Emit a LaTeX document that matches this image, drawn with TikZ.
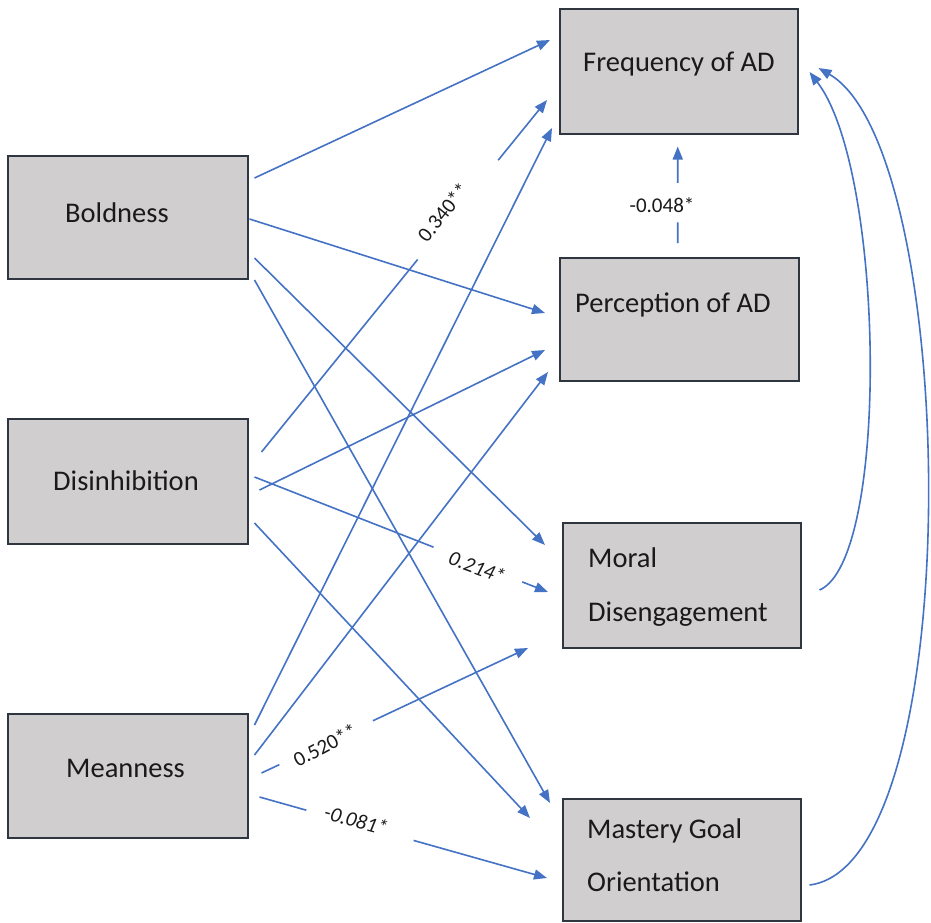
\documentclass[tikz,border=0pt]{standalone}
\usepackage{fontspec}
\setmainfont{Carlito}
\usetikzlibrary{arrows.meta,calc}
\definecolor{lineblue}{HTML}{4472C4}
\definecolor{boxgray}{HTML}{D0CECE}
\definecolor{boxedge}{HTML}{2F3640}
\definecolor{txt}{HTML}{1A1A1A}
\begin{document}
\begin{tikzpicture}[x=1pt,y=-1pt,
  box/.style={draw=boxedge, line width=1.5pt, fill=boxgray, inner sep=0pt, anchor=north west},
  lbl/.style={font=\fontsize{28.5}{34}\selectfont, text=txt, anchor=base west, inner sep=0pt},
  coef/.style={font=\fontsize{21}{25}\selectfont, text=txt, inner sep=0pt},
  plainline/.style={draw=lineblue, line width=1.6pt},
  conn/.style={draw=lineblue, line width=1.6pt, -{Triangle[length=13pt,width=10pt]}}]
\useasboundingbox (0,0) rectangle (931,922);
\fill[white] (0,0) rectangle (931,922);
% boxes
\node[box, minimum width=240pt, minimum height=123pt] (bold) at (7,155) {};
\node[box, minimum width=240pt, minimum height=125pt] (dis) at (7,418) {};
\node[box, minimum width=240pt, minimum height=124pt] (mean) at (7,713) {};
\node[box, minimum width=238pt, minimum height=125pt] (freq) at (559,8) {};
\node[box, minimum width=239pt, minimum height=123pt] (perc) at (559,257) {};
\node[box, minimum width=238pt, minimum height=125pt] (moral) at (562,522) {};
\node[box, minimum width=238pt, minimum height=122pt] (mast) at (562,798) {};
% box texts
\node[lbl] (tbold) at (65,222) {Boldness};
\node[lbl] (tdis) at (53,490) {Disinhibition};
\node[lbl] (tmean) at (66,777) {Meanness};
\node[lbl] (tfreq) at (583,71) {Frequency of AD};
\node[lbl] (tperc) at (575,312) {Perception of AD};
\node[lbl] (tmoral1) at (588,567) {Moral};
\node[lbl] (tmoral2) at (588,621) {Disengagement};
\node[lbl] (tmast1) at (587,838) {Mastery Goal};
\node[lbl] (tmast2) at (587,891) {Orientation};
% ports
\coordinate (b1) at ($(bold.north east)+(6,23)$);
\coordinate (b2) at ($(bold.north east)+(1,64)$);
\coordinate (b3) at ($(bold.north east)+(6,103)$);
\coordinate (b4) at ($(bold.north east)+(6,125)$);
\coordinate (d1) at ($(dis.north east)+(13,34)$);
\coordinate (d2) at ($(dis.north east)+(11,72)$);
\coordinate (d3) at ($(dis.north east)+(6,59)$);
\coordinate (d4) at ($(dis.north east)+(6,105)$);
\coordinate (m1) at ($(mean.north east)+(6,12)$);
\coordinate (m2) at ($(mean.north east)+(6,42)$);
\coordinate (m3) at ($(mean.north east)+(13,60)$);
\coordinate (m4) at ($(mean.north east)+(11,84)$);
\coordinate (f1) at ($(freq.north west)+(-9,32)$);
\coordinate (f2) at ($(freq.north west)+(-12,92)$);
\coordinate (f3) at ($(freq.north west)+(-7,120)$);
\coordinate (f4) at ($(freq.south)+(-1,12)$);
\coordinate (f5) at ($(freq.north east)+(11,64)$);
\coordinate (f6) at ($(freq.north east)+(20,60)$);
\coordinate (p1) at ($(perc.north west)+(-14,56)$);
\coordinate (p2) at ($(perc.north west)+(-14,93)$);
\coordinate (p3) at ($(perc.north west)+(-11,115)$);
\coordinate (p4) at ($(perc.north)+(-1.5,-14)$);
\coordinate (o1) at ($(moral.north west)+(-17,23)$);
\coordinate (o2) at ($(moral.north west)+(-14,70)$);
\coordinate (o3) at ($(moral.north west)+(-34,126)$);
\coordinate (o4) at ($(moral.north east)+(18,68)$);
\coordinate (s1) at ($(mast.north west)+(-12,5)$);
\coordinate (s2) at ($(mast.north west)+(-32,20)$);
\coordinate (s3) at ($(mast.north west)+(-15,80)$);
\coordinate (s4) at ($(mast.north east)+(8,87)$);
% Boldness
\draw[conn] (b1) -- (f1);
\draw[conn] (b2) -- (p1);
\draw[conn] (b3) -- (o1);
\draw[conn] (b4) -- (s1);
% Disinhibition
\draw[plainline] (d1) -- ($(d1)!0.547!(f2)$);
\draw[conn] ($(d1)!0.829!(f2)$) -- (f2);
\draw[conn] (d2) -- (p2);
\draw[plainline] (d3) -- ($(d3)!0.61!(o2)$);
\draw[conn] ($(d3)!0.912!(o2)$) -- (o2);
\draw[conn] (d4) -- (s2);
% Meanness
\draw[conn] (m1) -- (f3);
\draw[conn] (m2) -- (p3);
\draw[plainline] (m3) -- ($(m3)!0.067!(o3)$);
\draw[conn] ($(m3)!0.418!(o3)$) -- (o3);
\draw[plainline] (m4) -- ($(m4)!0.163!(s3)$);
\draw[conn] ($(m4)!0.536!(s3)$) -- (s3);
% Perception -> Frequency
\draw[plainline] (p4) -- ($(p4)!0.214!(f4)$);
\draw[conn] ($(p4)!0.622!(f4)$) -- (f4);
% curves
\draw[conn] (o4) .. controls (890,560) and (885,170) .. (f5);
\draw[conn] (s4) .. controls (970,865) and (960,150) .. (f6);
% coefficients
\node[coef, rotate=51] (c1) at (443,212) {0.340**};
\node[coef] (c2) at (662,205) {-0.048*};
\node[coef, rotate=-20, font=\fontsize{21}{25}\selectfont\itshape] (c3) at (477,567) {0.214*};
\node[coef, rotate=28] (c4) at (325,745) {0.520**};
\node[coef, rotate=-15, font=\fontsize{21}{25}\selectfont\itshape] (c5) at (356,820) {-0.081*};
\end{tikzpicture}
\end{document}
